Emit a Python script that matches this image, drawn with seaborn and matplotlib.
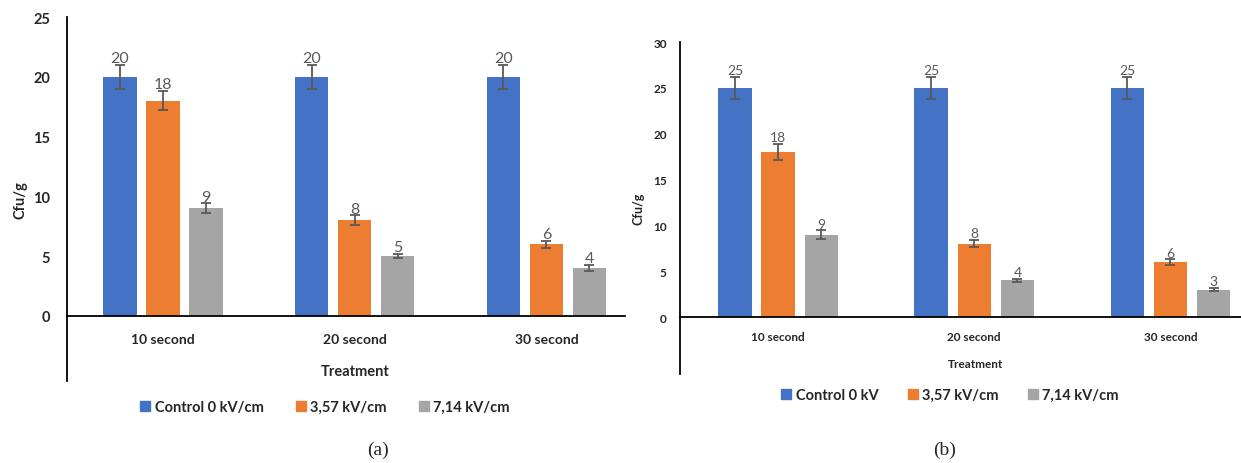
import numpy as np
import pandas as pd
import matplotlib
matplotlib.use("Agg")
import matplotlib.pyplot as plt
import seaborn as sns
from matplotlib.patches import Patch

# data
treatments = ["10 second", "20 second", "30 second"]

fields_a = ["Control 0 kV/cm", "3,57 kV/cm", "7,14 kV/cm"]
control_a = [20, 20, 20]
low_a = [18, 8, 6]
high_a = [9, 5, 4]
control_a_err = [1.0, 1.0, 1.0]
low_a_err = [0.8, 0.4, 0.3]
high_a_err = [0.4, 0.2, 0.25]

fields_b = ["Control 0 kV", "3,57 kV/cm", "7,14 kV/cm"]
control_b = [25, 25, 25]
low_b = [18, 8, 6]
high_b = [9, 4, 3]
control_b_err = [1.2, 1.2, 1.2]
low_b_err = [0.9, 0.4, 0.3]
high_b_err = [0.45, 0.15, 0.15]

colors = ["#4472C4", "#ED7D31", "#A5A5A5"]
label_color = "#595959"

sns.set_theme(style="white")
plt.rcParams["font.family"] = ["Lato", "DejaVu Sans"]


def long_table(fields, series, errs):
    rows = []
    for f, vals, ers in zip(fields, series, errs):
        for t, v, e in zip(treatments, vals, ers):
            rows.append({"Treatment": t, "field": f, "value": v, "err": e})
    return pd.DataFrame(rows)


def draw_panel(ax, df, fields, ylim, yticks, xlim, width, gap, fs):
    sns.barplot(data=df, x="Treatment", y="value", hue="field", hue_order=fields,
                order=treatments, palette=colors, width=width, gap=gap,
                errorbar=None, legend=False, ax=ax, saturation=1, linewidth=0)
    # error bars and value labels on top of every bar (patches come hue by hue)
    bars = [p for p in ax.patches if p.get_height() > 0]
    i = 0
    for f in fields:
        sub = df[df["field"] == f]
        for t in treatments:
            row = sub[sub["Treatment"] == t].iloc[0]
            p = bars[i]
            i += 1
            xc = p.get_x() + p.get_width() / 2
            ax.errorbar(xc, row["value"], yerr=row["err"], fmt="none",
                        ecolor=label_color, elinewidth=1.3, capsize=3.5, capthick=1.3)
            ax.annotate(f"{row['value']:g}", (xc, row["value"] + row["err"]),
                        xytext=(0, 2), textcoords="offset points", ha="center",
                        va="baseline", color=label_color, fontsize=fs["val"])
    ax.set_xlim(*xlim)
    ax.set_ylim(*ylim)
    ax.set_yticks(yticks)
    ax.set_yticklabels([str(v) for v in yticks])
    ax.tick_params(axis="y", length=0, pad=fs["ypad"], labelsize=fs["tick"])
    ax.tick_params(axis="x", length=0, pad=fs["xpad"], labelsize=fs["xtick"])
    for s in ["top", "right"]:
        ax.spines[s].set_visible(False)
    ax.spines["bottom"].set_position(("data", 0))
    ax.spines["left"].set_color("black")
    ax.spines["bottom"].set_color("black")
    ax.spines["left"].set_linewidth(1.3)
    ax.spines["bottom"].set_linewidth(1.3)
    ax.set_xlabel("")
    ax.set_ylabel("Cfu/g", fontweight="bold", fontsize=fs["ylab"], labelpad=fs["ylpad"])
    plt.setp(ax.get_yticklabels(), fontweight="bold")
    plt.setp(ax.get_xticklabels(), fontweight="bold")


fig = plt.figure(figsize=(12.41, 4.64), dpi=100)
W, H = 1241, 464

# panel (a)
ax_a = fig.add_axes([67 / W, 1 - 382 / H, (625 - 67) / W, (382 - 18) / H])
df_a = long_table(fields_a, [control_a, low_a, high_a], [control_a_err, low_a_err, high_a_err])
draw_panel(ax_a, df_a, fields_a, (-5.45, 25), [0, 5, 10, 15, 20, 25], (-0.5, 2.41),
           0.672, 0.22, dict(val=11.5, tick=10.5, xtick=10, ypad=12, xpad=12, ylab=10.5, ylpad=4))
fig.text(355 / W, 1 - 372 / H, "Treatment", ha="center", va="center",
         fontweight="bold", fontsize=10.5)

# panel (b)
ax_b = fig.add_axes([680 / W, 1 - 375 / H, (1241 - 680) / W, (375 - 43) / H])
df_b = long_table(fields_b, [control_b, low_b, high_b], [control_b_err, low_b_err, high_b_err])
draw_panel(ax_b, df_b, fields_b, (-6.2, 30), [0, 5, 10, 15, 20, 25, 30], (-0.5, 2.36),
           0.66, 0.23, dict(val=10, tick=8.5, xtick=8.5, ypad=9.5, xpad=10, ylab=9, ylpad=6))
fig.text(975 / W, 1 - 365 / H, "Treatment", ha="center", va="center",
         fontweight="bold", fontsize=8.5)

# legends under each panel
handles_a = [Patch(color=c, label=f) for c, f in zip(colors, fields_a)]
fig.legend(handles=handles_a, loc="center", bbox_to_anchor=(325 / W, 1 - 408 / H),
           ncol=3, frameon=False, handlelength=0.7, handleheight=0.7, handletextpad=0.3,
           columnspacing=2.2, prop=dict(weight="bold", size=10.5))
handles_b = [Patch(color=c, label=f) for c, f in zip(colors, fields_b)]
fig.legend(handles=handles_b, loc="center", bbox_to_anchor=(950 / W, 1 - 396 / H),
           ncol=3, frameon=False, handlelength=0.7, handleheight=0.7, handletextpad=0.3,
           columnspacing=2.0, prop=dict(weight="bold", size=10.5))

fig.text(378 / W, 1 - 450 / H, "(a)", ha="center", va="center",
         family=["Liberation Serif"], fontsize=14)
fig.text(945 / W, 1 - 450 / H, "(b)", ha="center", va="center",
         family=["Liberation Serif"], fontsize=14)

fig.savefig("out.png", dpi=100)
